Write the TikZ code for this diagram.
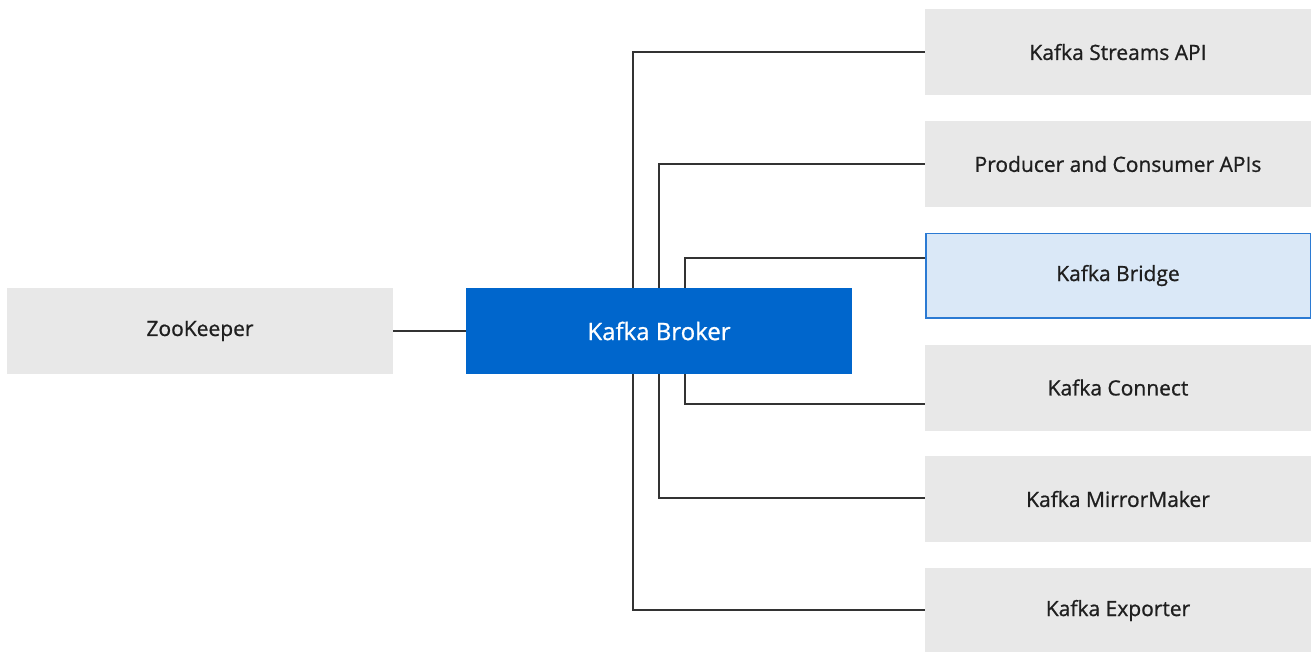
\documentclass[tikz,border=0pt]{standalone}
\usepackage{fontspec}
\setmainfont{Open Sans}[FakeBold=0.9]
\definecolor{boxgrey}{HTML}{E8E8E8}
\definecolor{brokerblue}{HTML}{0066CC}
\definecolor{bridgefill}{HTML}{DAE8F7}
\definecolor{bridgeline}{HTML}{2B7AD3}
\definecolor{linegrey}{HTML}{333333}
\begin{document}
\begin{tikzpicture}[x=1pt,y=-1pt,
  box/.style={minimum width=386pt,minimum height=86pt,inner sep=0pt,font=\fontsize{21}{25}\selectfont,text=black!88},
  greybox/.style={box,fill=boxgrey},
  brokerbox/.style={box,fill=brokerblue,text=white,font=\fontsize{24}{28}\selectfont},
  bridgebox/.style={box,fill=bridgefill,draw=bridgeline,line width=1.5pt,minimum width=384.5pt,minimum height=84.5pt},
  conn/.style={draw=linegrey,line width=1.6pt}]
\useasboundingbox (0,0) rectangle (1313,651);
\node[greybox] (zk) at (200,331) {ZooKeeper};
\node[brokerbox] (broker) at (659,331) {Kafka Broker};
\node[greybox] (streams) at (1118,52) {Kafka Streams API};
\node[greybox] (prodcons) at (1118,164) {Producer and Consumer APIs};
\node[bridgebox] (bridge) at (1118,275.5) {Kafka Bridge};
\node[greybox] (connect) at (1118,387.5) {Kafka Connect};
\node[greybox] (mirror) at (1118,499) {Kafka MirrorMaker};
\node[greybox] (exporter) at (1118,610.5) {Kafka Exporter};
\draw[conn] (zk.east) -- (broker.west);
\draw[conn] (broker.north -| 633,0) |- (streams.west |- 0,52);
\draw[conn] (broker.north -| 659,0) |- (prodcons.west |- 0,164);
\draw[conn] (broker.north -| 685,0) |- (bridge.west |- 0,258);
\draw[conn] (broker.south -| 685,0) |- (connect.west |- 0,404);
\draw[conn] (broker.south -| 659,0) |- (mirror.west |- 0,498);
\draw[conn] (broker.south -| 633,0) |- (exporter.west |- 0,610);
\end{tikzpicture}
\end{document}
